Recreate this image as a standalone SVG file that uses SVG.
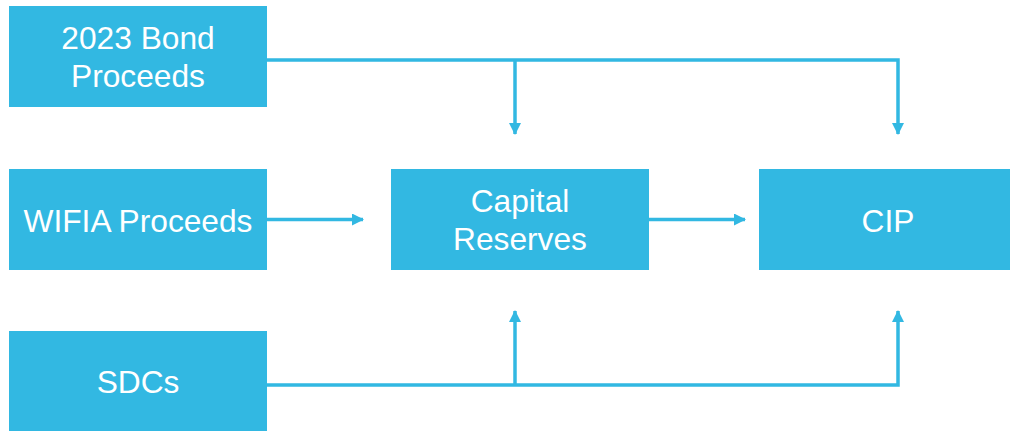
<svg xmlns="http://www.w3.org/2000/svg" width="1010" height="431" viewBox="0 0 1010 431">
<defs>
<style>
.box{fill:#32B8E2;}
.lbl{fill:#FFFFFF;font-family:"Liberation Sans",Arial,sans-serif;font-size:31.7px;text-anchor:middle;}
.conn{fill:none;stroke:#32B8E2;stroke-width:3.5;}
</style>
<marker id="arr" viewBox="0 0 12 12" refX="11" refY="6" markerWidth="12" markerHeight="12" markerUnits="userSpaceOnUse" orient="auto">
<path d="M0,0 L12,6 L0,12 Z" fill="#32B8E2"/>
</marker>
</defs>
<rect width="1010" height="431" fill="#FFFFFF"/>
<g id="connectors">
<path class="conn" d="M267,60 H898 V134" marker-end="url(#arr)"/>
<path class="conn" d="M515,60 V134" marker-end="url(#arr)"/>
<path class="conn" d="M267,219.5 H363" marker-end="url(#arr)"/>
<path class="conn" d="M649,219.5 H745" marker-end="url(#arr)"/>
<path class="conn" d="M267,385 H898 V311" marker-end="url(#arr)"/>
<path class="conn" d="M515,385 V311" marker-end="url(#arr)"/>
</g>
<g id="bond">
<rect class="box" x="9" y="6" width="258" height="101"/>
<text class="lbl" x="138" y="49">2023 Bond</text>
<text class="lbl" x="138" y="87">Proceeds</text>
</g>
<g id="wifia">
<rect class="box" x="9" y="169" width="258" height="101"/>
<text class="lbl" x="138" y="231.5">WIFIA Proceeds</text>
</g>
<g id="sdcs">
<rect class="box" x="9" y="331" width="258" height="101"/>
<text class="lbl" x="138" y="392.5">SDCs</text>
</g>
<g id="capital">
<rect class="box" x="391" y="169" width="258" height="101"/>
<text class="lbl" x="520" y="212">Capital</text>
<text class="lbl" x="520" y="250">Reserves</text>
</g>
<g id="cip">
<rect class="box" x="759" y="169" width="258" height="101"/>
<text class="lbl" x="888" y="231.5">CIP</text>
</g>
</svg>
